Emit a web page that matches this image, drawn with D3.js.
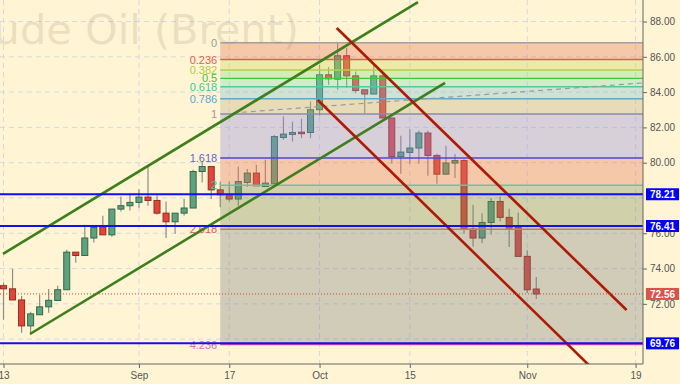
<!DOCTYPE html>
<html><head><meta charset="utf-8">
<script src="https://cdn.jsdelivr.net/npm/d3@7"></script>
<style>html,body{margin:0;padding:0;background:#fff4d4;} svg{display:block;}</style>
</head><body><svg id="c" width="680" height="384"></svg>
<script>
// ---- data ----
const dates = ["2018-08-13","2018-08-14","2018-08-15","2018-08-16","2018-08-17",
"2018-08-20","2018-08-21","2018-08-22","2018-08-23","2018-08-24",
"2018-08-27","2018-08-28","2018-08-29","2018-08-30","2018-08-31",
"2018-09-03","2018-09-04","2018-09-05","2018-09-06","2018-09-07",
"2018-09-10","2018-09-11","2018-09-12","2018-09-13","2018-09-14",
"2018-09-17","2018-09-18","2018-09-19","2018-09-20","2018-09-21",
"2018-09-24","2018-09-25","2018-09-26","2018-09-27","2018-09-28",
"2018-10-01","2018-10-02","2018-10-03","2018-10-04","2018-10-05",
"2018-10-08","2018-10-09","2018-10-10","2018-10-11","2018-10-12",
"2018-10-15","2018-10-16","2018-10-17","2018-10-18","2018-10-19",
"2018-10-22","2018-10-23","2018-10-24","2018-10-25","2018-10-26",
"2018-10-29","2018-10-30","2018-10-31","2018-11-01","2018-11-02"];
const open  = [73.03,72.85,72.22,70.75,71.38,71.83,72.19,72.80,74.93,74.74,75.73,76.35,75.91,77.37,77.56,77.75,78.05,77.86,77.14,76.65,77.14,77.43,79.50,79.78,78.46,78.18,77.94,78.88,79.41,78.65,78.80,81.43,81.60,81.73,81.71,83.00,84.98,84.73,86.06,84.92,84.13,83.89,84.92,82.53,80.35,80.58,80.83,81.68,80.41,79.35,79.98,80.12,76.24,75.73,76.61,77.80,76.90,76.33,74.69,72.84];
const high  = [73.20,73.98,72.45,71.55,72.50,72.84,73.03,75.06,74.93,76.48,76.33,76.99,77.37,78.09,78.24,78.50,79.78,78.14,77.80,77.14,77.94,79.60,80.07,79.78,78.93,78.93,79.78,79.64,79.88,80.16,81.57,82.62,82.33,82.49,83.47,85.55,85.42,86.78,86.50,85.17,84.13,85.55,85.10,82.53,81.52,81.90,81.82,81.82,80.50,80.96,80.49,80.20,77.61,77.14,78.00,78.08,77.39,77.18,75.03,73.52];
const low   = [71.10,72.22,70.36,70.25,71.38,71.50,72.19,72.80,74.33,74.74,75.48,75.91,75.80,77.24,77.29,77.45,77.56,77.05,75.73,75.97,77.00,77.43,78.88,77.94,77.48,77.80,77.56,78.63,78.69,78.65,78.80,81.30,81.20,81.39,81.39,82.66,84.41,84.13,84.23,83.94,82.81,83.89,82.53,79.94,79.37,79.94,79.94,79.26,78.80,79.35,79.13,75.97,75.25,75.44,75.91,76.67,75.22,74.69,72.61,72.27];
const close = [72.85,72.22,70.75,71.43,71.83,72.20,72.80,74.93,74.74,75.73,76.33,75.91,77.37,77.56,77.75,78.05,77.86,77.14,76.65,77.14,77.43,79.50,79.78,78.46,78.18,77.94,78.93,79.41,78.69,78.84,81.48,81.62,81.71,81.65,83.00,84.98,84.75,86.06,84.92,84.09,83.89,84.92,82.53,80.35,80.60,80.83,81.68,80.41,79.35,79.98,80.12,76.24,75.73,76.61,77.80,76.90,76.29,74.69,72.80,72.56];

const tickIndex  = [0,15,25,35,45,58,70];
const tickLabels = ["13","Sep","17","Oct","15","Nov","19"];
const gridPrices = [70,72,74,76,78,80,82,84,86,88];
const priceTicks = [72,74,76,80,82,84,86,88];

const fibRatios = [0,0.236,0.382,0.5,0.618,0.786,1,1.618,2,2.618,4.236];
const fibLabels = ["0","0.236","0.382","0.5","0.618","0.786","1","1.618","2","2.618","4.236"];
const fibHigh = 86.80, fibLow = 82.76, fibStartIndex = 24.0;
const fibLineColors = ["#a0a0a0","#d9634a","#b5d048","#3fc83f","#52c8a2","#5aaad4","#8c8ca4","#4848d8","#5ccaa0","#c8786a","#e048a8"];
const fibTextColors = ["#9a9a9a","#e06050","#b0cc40","#40c040","#40c8a0","#58a8d8","#9a9a9a","#6464d4","#40c8a0","#e05a50","#d870b8"];
const fibFillColors = ["rgb(229,118,92)","rgb(205,212,92)","rgb(139,221,121)","rgb(127,221,178)","rgb(121,192,212)","rgb(189,175,131)","rgb(144,141,223)","rgb(229,118,92)","rgb(121,141,92)","rgb(121,130,132)"];

const levelPrices = [78.21,76.41,69.76];
const lastPrice = 72.56;

const upperGreen = [[-0.06,74.83],[45.9,89.10]];
const lowerGreen = [[2.93,70.29],[48.9,84.52]];
const upperRed   = [[36.9,87.63],[69.0,71.65]];
const lowerRed   = [[34.8,83.55],[66.0,67.94]];
const dashedTrend = [[25.4,82.82],[70.82,84.52]];

// ---- layout ----
const W = 643, H = 364;
const svg = d3.select("#c");
const x = d3.scaleLinear().domain([-0.39,70.82]).range([0,W]);
const y = d3.scaleLinear().domain([68.59,89.22]).range([H,0]);

svg.append("rect").attr("width",680).attr("height",384).attr("fill","#fff4d4");
svg.append("defs").append("clipPath").attr("id","plot").append("rect").attr("width",W).attr("height",H);
const g = svg.append("g").attr("clip-path","url(#plot)");

// grid
g.selectAll(".vg").data(tickIndex).join("line")
  .attr("x1",d=>x(d)).attr("x2",d=>x(d)).attr("y1",0).attr("y2",H)
  .attr("stroke","#d6d8e2").attr("stroke-dasharray","5,4");
g.selectAll(".hg").data(gridPrices).join("line")
  .attr("x1",0).attr("x2",W).attr("y1",d=>y(d)).attr("y2",d=>y(d))
  .attr("stroke","#d6d8e2").attr("stroke-dasharray","5,4");

// watermark
g.append("text").attr("x",299).attr("y",44).attr("text-anchor","end")
  .attr("font-family","DejaVu Sans").attr("font-size",41.5)
  .attr("fill","rgba(130,115,80,0.17)").text("Crude Oil (Brent)");

// candles
const idx = d3.range(dates.length);
const bw = 6;
g.selectAll(".wick").data(idx).join("line")
  .attr("x1",i=>x(i)).attr("x2",i=>x(i))
  .attr("y1",i=>y(high[i])).attr("y2",i=>y(low[i]))
  .attr("stroke","#8c8c8c").attr("stroke-width",1.2);
g.selectAll(".body").data(idx).join("rect")
  .attr("x",i=>x(i)-bw/2).attr("width",bw)
  .attr("y",i=>y(Math.max(open[i],close[i])))
  .attr("height",i=>Math.max(1.5,Math.abs(y(open[i])-y(close[i]))))
  .attr("fill",i=>close[i]>=open[i]?"#5ea27f":"#e0473a")
  .attr("stroke",i=>close[i]>=open[i]?"#2f6a48":"#98291e").attr("stroke-width",1);

// fib zones
const fibPrice = r => fibHigh - r*(fibHigh-fibLow);
const x0 = x(fibStartIndex);
for (let k=0;k<fibRatios.length-1;k++){
  const ya = y(fibPrice(fibRatios[k])), yb = y(fibPrice(fibRatios[k+1]));
  g.append("rect").attr("x",x0).attr("width",W-x0).attr("y",ya).attr("height",yb-ya)
    .attr("fill",fibFillColors[k]).attr("fill-opacity",0.35);
}
fibRatios.forEach((r,k)=>{
  g.append("line").attr("x1",x0).attr("x2",W).attr("y1",y(fibPrice(r))).attr("y2",y(fibPrice(r)))
    .attr("stroke",fibLineColors[k]).attr("stroke-width",1.4);
  g.append("text").attr("x",x0-3).attr("y",y(fibPrice(r))+4).attr("text-anchor","end")
    .attr("font-family","Liberation Sans, Arial, sans-serif").attr("font-size",11)
    .attr("fill",fibTextColors[k]).text(fibLabels[k]);
});

// dashed trend
const line = d3.line().x(d=>x(d[0])).y(d=>y(d[1]));
g.append("path").attr("d",line(dashedTrend)).attr("fill","none")
  .attr("stroke","#9a9a9a").attr("stroke-width",1.2).attr("stroke-dasharray","5,4");

// channels
[upperGreen,lowerGreen].forEach(l=>g.append("path").attr("d",line(l)).attr("fill","none")
  .attr("stroke","#3d7f1c").attr("stroke-width",2.6));
[upperRed,lowerRed].forEach(l=>g.append("path").attr("d",line(l)).attr("fill","none")
  .attr("stroke","#ad1a06").attr("stroke-width",2.6));

// horizontal levels
g.selectAll(".lvl").data(levelPrices).join("line")
  .attr("x1",0).attr("x2",W).attr("y1",d=>y(d)).attr("y2",d=>y(d))
  .attr("stroke","#1010f0").attr("stroke-width",2);
g.append("line").attr("x1",0).attr("x2",W).attr("y1",y(lastPrice)).attr("y2",y(lastPrice))
  .attr("stroke","#c8483c").attr("stroke-width",1).attr("stroke-dasharray","1,2");

// axes
const font = "Liberation Sans, Arial, sans-serif";
const yAxis = d3.axisRight(y).tickValues(priceTicks).tickFormat(d3.format(".2f")).tickSize(4).tickPadding(3);
const ya = svg.append("g").attr("transform",`translate(${W},0)`).call(yAxis);
const xAxis = d3.axisBottom(x).tickValues(tickIndex).tickFormat((d,i)=>tickLabels[i]).tickSize(4).tickPadding(4);
const xa = svg.append("g").attr("transform",`translate(0,${H})`).call(xAxis);
[ya,xa].forEach(a=>{
  a.select(".domain").attr("stroke","#666");
  a.selectAll(".tick line").attr("stroke","#666");
  a.selectAll(".tick text").attr("fill","#555").attr("font-family",font).attr("font-size",10);
});
ya.select(".domain").attr("d",`M0,0V${H}`);
xa.select(".domain").attr("d",`M0,0H${W}`);

// price label boxes
const boxes = levelPrices.map(p=>({p,c:"#0000ff"})).concat([{p:lastPrice,c:"#d9534a"}]);
boxes.forEach(b=>{
  svg.append("rect").attr("x",W+3).attr("y",y(b.p)-6).attr("width",33).attr("height",12).attr("fill",b.c);
  svg.append("text").attr("x",W+7).attr("y",y(b.p)+4).attr("font-family",font).attr("font-size",10)
    .attr("font-weight","bold").attr("fill","#fff").text(b.p.toFixed(2));
});
</script></body></html>
